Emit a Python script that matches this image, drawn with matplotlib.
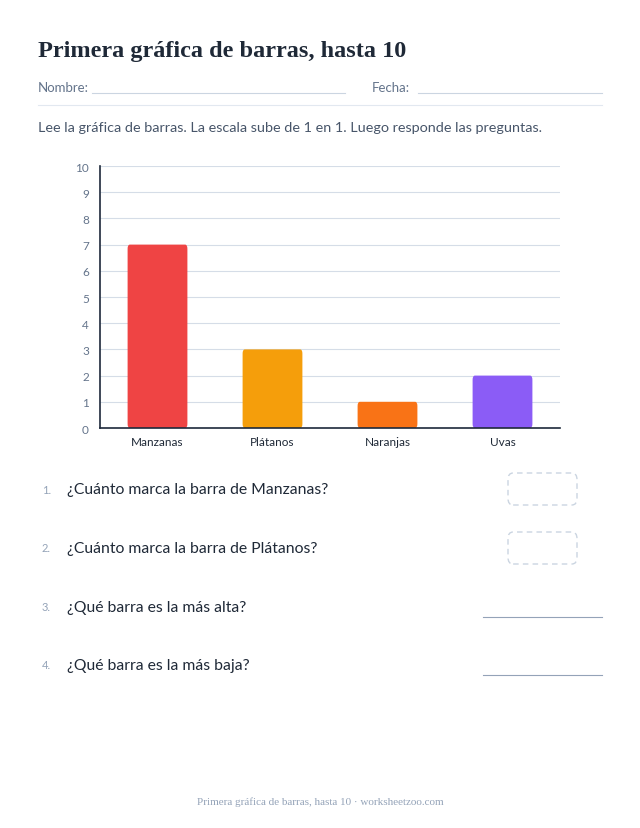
import matplotlib.pyplot as plt
from matplotlib.patches import FancyBboxPatch

categories = ['Manzanas', 'Plátanos', 'Naranjas', 'Uvas']
values = [7, 3, 1, 2]
colors = ['#ef4444', '#f59e0b', '#f97316', '#8b5cf6']
questions = ['¿Cuánto marca la barra de Manzanas?',
             '¿Cuánto marca la barra de Plátanos?',
             '¿Qué barra es la más alta?',
             '¿Qué barra es la más baja?']

W, H = 640, 829
fig = plt.figure(figsize=(6.4, 8.29), dpi=100)
sans = ['Lato', 'DejaVu Sans']
dark = '#1f2937'
grey = '#64748b'
line = '#cbd5e1'

def fx(x):
    return x / W

def fy(y):
    return 1 - y / H

fig.text(fx(38), fy(51), 'Primera gráfica de barras, hasta 10', family='Liberation Serif',
         weight='bold', fontsize=17.5, color=dark, va='center')
fig.text(fx(38), fy(88), 'Nombre:', family=sans, fontsize=9.5, color=grey, va='center')
fig.add_artist(plt.Line2D([fx(92), fx(345)], [fy(94)] * 2, color=line, lw=0.8))
fig.text(fx(372), fy(88), 'Fecha:', family=sans, fontsize=9.5, color=grey, va='center')
fig.add_artist(plt.Line2D([fx(418), fx(602)], [fy(94)] * 2, color=line, lw=0.8))
fig.add_artist(plt.Line2D([fx(38), fx(602)], [fy(106)] * 2, color='#e2e8f0', lw=0.8))
fig.text(fx(38), fy(128), 'Lee la gráfica de barras. La escala sube de 1 en 1. Luego responde las preguntas.',
         family=sans, fontsize=10.4, color='#475569', va='center')

ax = fig.add_axes([fx(100), fy(429), fx(460), 262 / H])
ax.set_xlim(-0.5, 3.5)
ax.set_ylim(0, 10)
ax.set_yticks(range(11))
ax.grid(axis='y', color='#d5dde7', lw=0.8)
ax.set_axisbelow(True)
for i, (v, c) in enumerate(zip(values, colors)):
    ax.add_patch(FancyBboxPatch((i - 0.26, 0), 0.52, v, boxstyle='round,pad=0,rounding_size=0.02',
                                mutation_aspect=8, facecolor=c, edgecolor='none'))
ax.set_xticks(range(len(categories)))
ax.set_xticklabels(categories, family=sans, fontsize=8.5, color=dark)
for t in ax.get_yticklabels():
    t.set_family(sans)
ax.tick_params(axis='y', labelsize=8.5, labelcolor=grey, length=0, pad=8)
ax.tick_params(axis='x', length=0, pad=6)
for s in ['top', 'right']:
    ax.spines[s].set_visible(False)
for s in ['left', 'bottom']:
    ax.spines[s].set_color('#1e293b')
    ax.spines[s].set_linewidth(1.2)

ys = [490, 549, 608, 666]
for i, (q, y) in enumerate(zip(questions, ys)):
    fig.text(fx(42), fy(y), f'{i + 1}.', family=sans, fontsize=8, color='#94a3b8', va='center')
    fig.text(fx(67), fy(y), q, family=sans, fontsize=11.3, color=dark, va='center')
    if i < 2:
        fig.add_artist(FancyBboxPatch((fx(508), fy(y + 16)), fx(69), 32 / H,
                                      boxstyle='round,pad=0,rounding_size=0.008',
                                      facecolor='none', edgecolor='#cbd5e1', lw=1, ls=(0, (4, 3)),
                                      transform=fig.transFigure))
    else:
        fig.add_artist(plt.Line2D([fx(483), fx(602)], [fy(y + 10)] * 2, color='#94a3b8', lw=0.8))

fig.text(0.5, fy(802), 'Primera gráfica de barras, hasta 10 · worksheetzoo.com', family='Liberation Serif',
         fontsize=8, color='#94a3b8', ha='center', va='center')
fig.savefig('out.png', dpi=100)
